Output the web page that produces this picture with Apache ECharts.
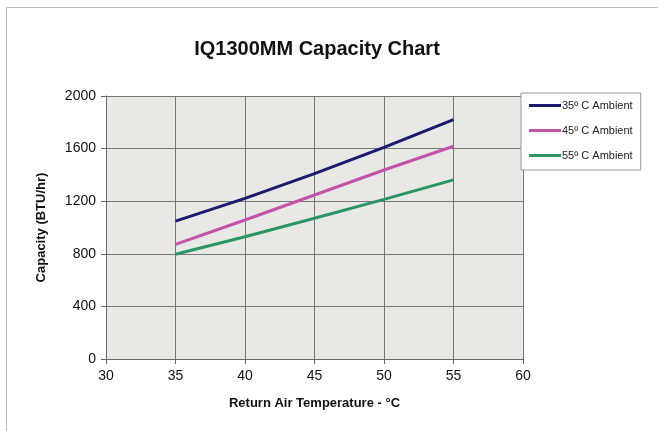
<!DOCTYPE html>
<html>
<head>
<meta charset="utf-8">
<script src="https://cdn.jsdelivr.net/npm/echarts@6/dist/echarts.min.js"></script>
<style>
  html, body { margin: 0; padding: 0; background: #fff; }
  #chart { width: 658px; height: 431px; }
</style>
</head>
<body>
<div id="chart"></div>
<script>
// return air temperature (°C)
const temps = [35, 40, 45, 50, 55];
// capacity (BTU/hr) per ambient temperature
const amb35 = [1048, 1222, 1410, 1610, 1820];
const amb45 = [872, 1057, 1247, 1437, 1618];
const amb55 = [796, 930, 1070, 1214, 1362];
const seriesNames = ['35º C Ambient', '45º C Ambient', '55º C Ambient'];
const xTicks = [30, 35, 40, 45, 50, 55, 60];
const yTicks = [0, 400, 800, 1200, 1600, 2000];

const colors = ['#1c1a6e', '#c253a8', '#2a9464'];
const font = '"Liberation Sans", Arial, sans-serif';

const toPairs = (vals) => temps.map((t, i) => [t, vals[i]]);

const chart = echarts.init(document.getElementById('chart'));
chart.setOption({
  animation: false,
  textStyle: { fontFamily: font },
  title: {
    text: 'IQ1300MM Capacity Chart',
    left: 312,
    textAlign: 'center',
    top: 34,
    textStyle: { fontSize: 20, fontWeight: 'bold', color: '#111', fontFamily: font }
  },
  graphic: [{
    type: 'rect',
    shape: { x: 6.5, y: 7.5, width: 660, height: 430 },
    style: { fill: 'none', stroke: '#bbb', lineWidth: 1 },
    silent: true
  }],
  legend: {
    orient: 'vertical',
    left: 521,
    top: 93,
    padding: [7, 8, 9, 8],
    itemGap: 14,
    itemWidth: 32,
    itemHeight: 3,
    backgroundColor: '#fff',
    borderColor: '#999',
    borderWidth: 1,
    icon: 'rect',
    textStyle: { fontSize: 11, color: '#222', fontFamily: font, padding: [0, 0, 0, -4] },
    data: seriesNames
  },
  grid: {
    left: 106,
    right: 135,
    top: 96,
    bottom: 72,
    show: true,
    backgroundColor: '#e8e8e5',
    borderColor: '#888',
    borderWidth: 0
  },
  xAxis: {
    type: 'value',
    min: xTicks[0],
    max: xTicks[xTicks.length - 1],
    interval: 5,
    name: 'Return Air Temperature - °C',
    nameLocation: 'middle',
    nameGap: 38,
    nameTextStyle: { fontSize: 13, fontWeight: 'bold', color: '#111', fontFamily: font },
    axisLine: { lineStyle: { color: '#666' } },
    axisTick: { show: true, length: 5, lineStyle: { color: '#666' } },
    axisLabel: { fontSize: 14, color: '#111', margin: 10 },
    splitLine: { show: true, lineStyle: { color: '#777', width: 1 } }
  },
  yAxis: {
    type: 'value',
    min: yTicks[0],
    max: yTicks[yTicks.length - 1],
    interval: 400,
    name: 'Capacity (BTU/hr)',
    nameLocation: 'middle',
    nameGap: 58,
    nameTextStyle: { fontSize: 13, fontWeight: 'bold', color: '#111', fontFamily: font },
    axisLine: { show: true, lineStyle: { color: '#666' } },
    axisTick: { show: true, length: 5, lineStyle: { color: '#666' } },
    axisLabel: { fontSize: 14, color: '#111', margin: 10, formatter: (v) => String(v) },
    splitLine: { show: true, lineStyle: { color: '#777', width: 1 } }
  },
  series: [amb35, amb45, amb55].map((vals, i) => ({
    name: seriesNames[i],
    type: 'line',
    data: toPairs(vals),
    color: colors[i],
    showSymbol: false,
    lineStyle: { width: 3, color: colors[i] }
  }))
});
</script>
</body>
</html>
